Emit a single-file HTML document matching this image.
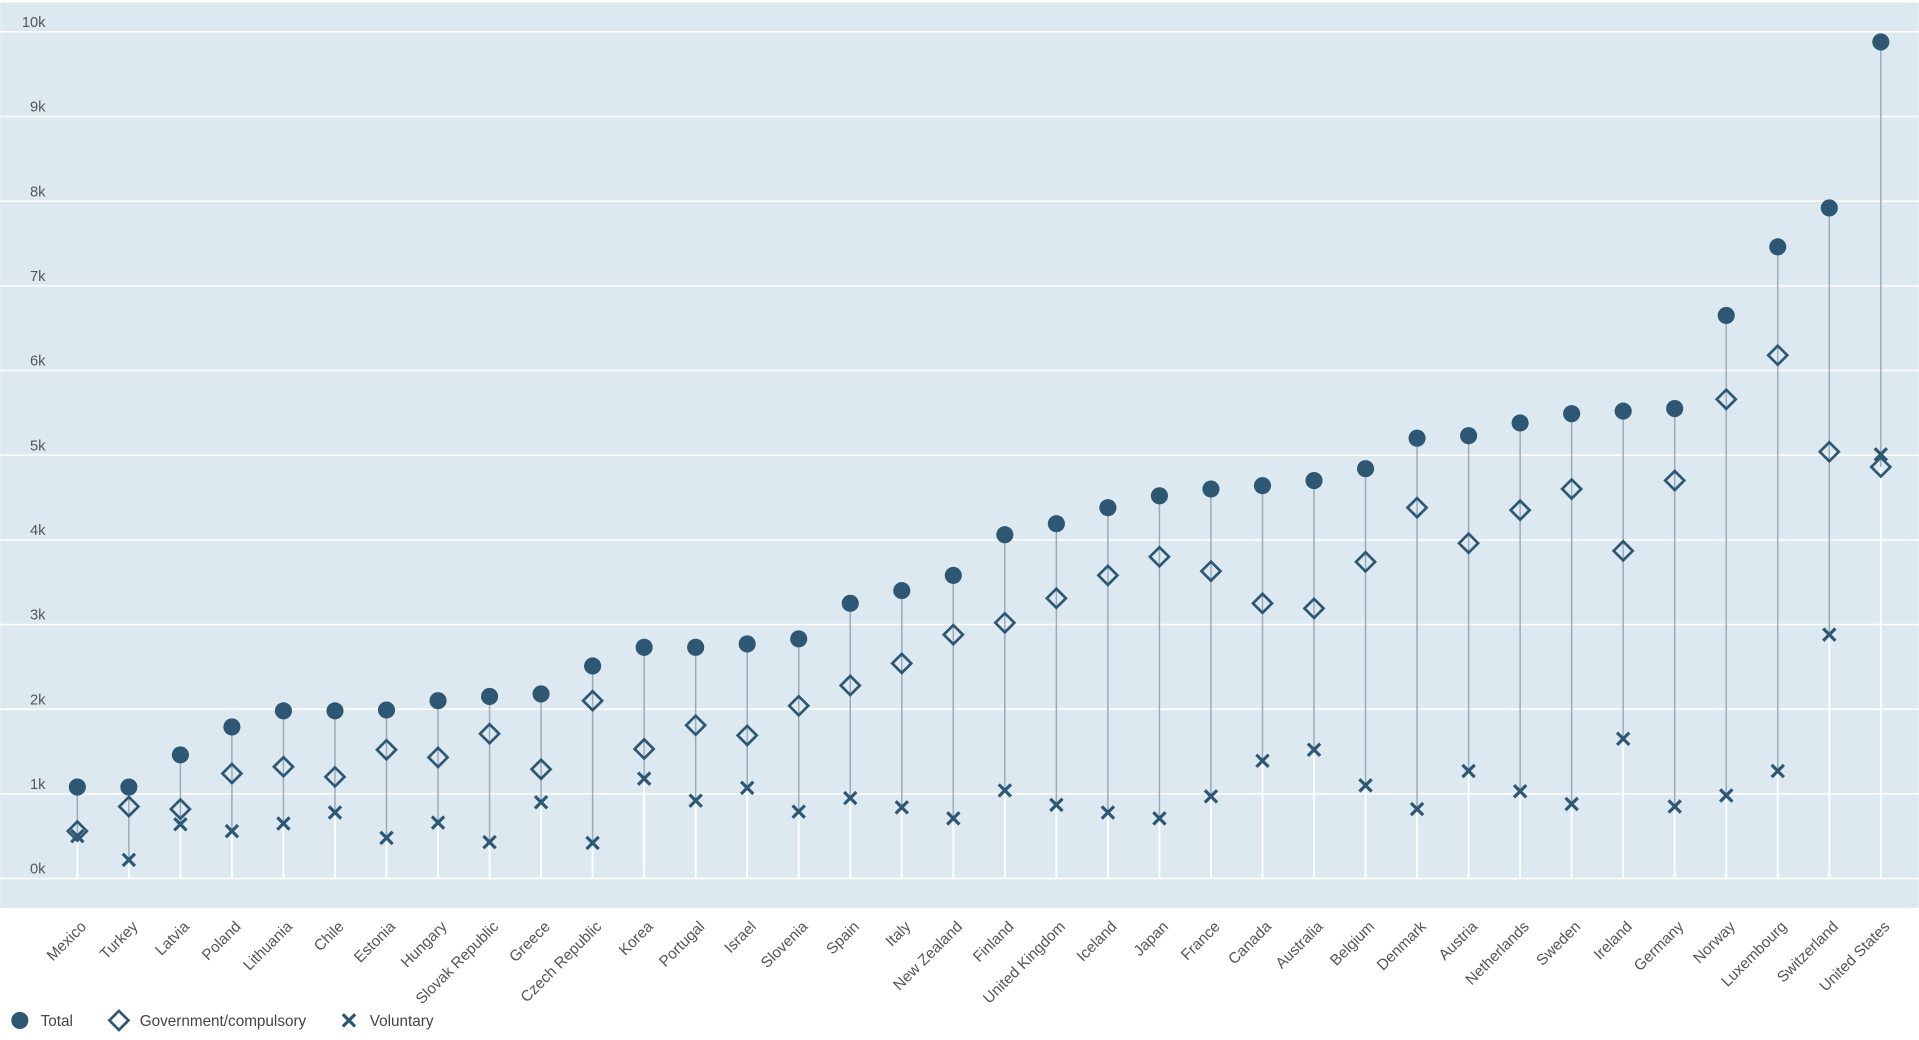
<!DOCTYPE html>
<html><head><meta charset="utf-8"><style>
html,body{margin:0;padding:0;background:#fff;}
svg{display:block;font-family:"Liberation Sans",sans-serif;}
</style></head><body>
<svg id="chart" width="1919" height="1040" viewBox="0 0 1568 850" xmlns="http://www.w3.org/2000/svg">
<rect x="0" y="2" width="1568" height="740" fill="#dde9f1"/>
<g id="grid"></g><g id="marks"></g><g id="xlabels"></g>
<g font-size="12.5" fill="#444">
 <g><circle cx="16" cy="834" r="7" fill="#2e5773"/><text x="33" y="838.5">Total</text></g>
 <g><rect x="91.5" y="828.5" width="11" height="11" transform="rotate(45 97 834)" fill="none" stroke="#2e5773" stroke-width="2.2"/><text x="114" y="838.5">Government/compulsory</text></g>
 <g><path d="M280 829 L290 839 M290 829 L280 839" stroke="#2e5773" stroke-width="2.6"/><text x="302" y="838.5">Voluntary</text></g>
</g>
</svg>
<script>
const countries=["Mexico","Turkey","Latvia","Poland","Lithuania","Chile","Estonia","Hungary","Slovak Republic","Greece","Czech Republic","Korea","Portugal","Israel","Slovenia","Spain","Italy","New Zealand","Finland","United Kingdom","Iceland","Japan","France","Canada","Australia","Belgium","Denmark","Austria","Netherlands","Sweden","Ireland","Germany","Norway","Luxembourg","Switzerland","United States"];
const total=[1080,1080,1460,1790,1980,1980,1990,2100,2150,2180,2510,2730,2730,2770,2830,3250,3400,3580,4060,4190,4380,4520,4600,4640,4700,4840,5200,5230,5380,5490,5520,5550,6650,7460,7920,9880];
const government=[560,850,820,1240,1320,1200,1520,1430,1710,1290,2100,1530,1810,1690,2040,2280,2540,2880,3020,3310,3580,3800,3630,3250,3190,3740,4380,3960,4350,4600,3870,4700,5660,6180,5040,4860];
const voluntary=[500,220,640,560,650,780,480,660,430,900,420,1180,920,1070,790,950,840,710,1040,870,780,710,970,1390,1520,1100,820,1270,1030,880,1650,850,980,1270,2880,5010];
const yTicks=[0,1000,2000,3000,4000,5000,6000,7000,8000,9000,10000];
const tickLabels=["0k","1k","2k","3k","4k","5k","6k","7k","8k","9k","10k"];
const NS="http://www.w3.org/2000/svg";
const y=v=>718-v*(692/10000);
const x=i=>63+i*(1474/35);
function mk(t,a,p){const e=document.createElementNS(NS,t);for(const k in a)e.setAttribute(k,a[k]);p.appendChild(e);return e;}
const grid=document.getElementById('grid'),marks=document.getElementById('marks'),xl=document.getElementById('xlabels');
yTicks.forEach((t,i)=>{
 const l=mk('line',{x1:0,x2:1568,y1:y(t),y2:y(t),stroke:'#fff','stroke-width':1.3},grid);
 
 
 const tx=mk('text',{x:37,y:y(t)-4,'text-anchor':'end','font-size':12,fill:'#555'},grid);
 tx.textContent=tickLabels[i];
 
 
});
countries.forEach((c,i)=>{
 const cx=x(i);
 const lo=Math.min(total[i],government[i],voluntary[i]),hi=Math.max(total[i],government[i],voluntary[i]);
 const s1=mk('line',{x1:cx,x2:cx,y1:y(0),y2:y(lo),stroke:'#fff','stroke-width':1.5},marks);
 
 
 const s2=mk('line',{x1:cx,x2:cx,y1:y(lo),y2:y(hi),stroke:'#9aaab6','stroke-width':1.2},marks);
 
 
 const gy=y(government[i]);
 const d=mk('rect',{x:cx-5.5,y:gy-5.5,width:11,height:11,transform:`rotate(45 ${cx} ${gy})`,fill:'none',stroke:'#2e5773','stroke-width':2.2},marks);
 
 
 const vy=y(voluntary[i]);
 const xm=mk('path',{d:`M${cx-5} ${vy-5}L${cx+5} ${vy+5}M${cx+5} ${vy-5}L${cx-5} ${vy+5}`,stroke:'#2e5773','stroke-width':2.6},marks);
 
 
 const ci=mk('circle',{cx:cx,cy:y(total[i]),r:7,fill:'#2e5773'},marks);
 
 
 const t=mk('text',{x:cx+8,y:758,'text-anchor':'end','font-size':12.5,fill:'#555',transform:`rotate(-45 ${cx+8} 758)`},xl);
 t.textContent=c;
 
 
});
</script>
</body></html>
